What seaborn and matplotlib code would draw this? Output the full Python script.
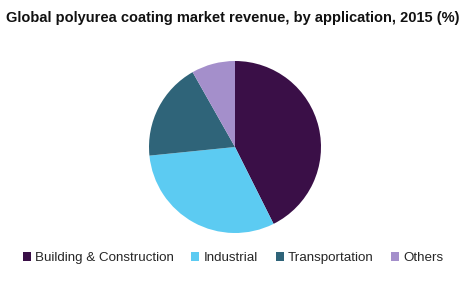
import matplotlib
matplotlib.use("Agg")
import matplotlib.pyplot as plt
import seaborn as sns
from matplotlib.patches import Patch

sns.set_theme(style="white")
plt.rcParams['font.family'] = ['Liberation Sans', 'DejaVu Sans']

categories = ["Building & Construction", "Industrial", "Transportation", "Others"]
values = [42.6, 30.8, 18.4, 8.2]
colors = ["#3a0f47", "#5ccbf2", "#2f6479", "#a48fcb"]

fig = plt.figure(figsize=(4.66, 2.82), dpi=100)
ax = fig.add_axes([(235 - 86) / 466, 1 - 233 / 282, 172 / 466, 172 / 282])
ax.pie(values, colors=colors, startangle=90, counterclock=False,
       wedgeprops=dict(linewidth=0))
ax.set_xlim(-1.0, 1.0)
ax.set_ylim(-1.0, 1.0)
ax.set_aspect('equal')
ax.axis('off')

fig.text(0.5, 1 - 18 / 282, "Global polyurea coating market revenue, by application, 2015 (%)",
         ha='center', va='center', fontsize=10.5, fontweight='bold', color='#111111')

handles = [Patch(facecolor=c, edgecolor='none') for c in colors]
fig.legend(handles, categories, loc='center', bbox_to_anchor=(0.5, 1 - 258 / 282),
           ncol=4, frameon=False, fontsize=9.6, handlelength=0.6, handleheight=0.6,
           handletextpad=0.3, columnspacing=1.35)

fig.savefig("out.png", dpi=100)
